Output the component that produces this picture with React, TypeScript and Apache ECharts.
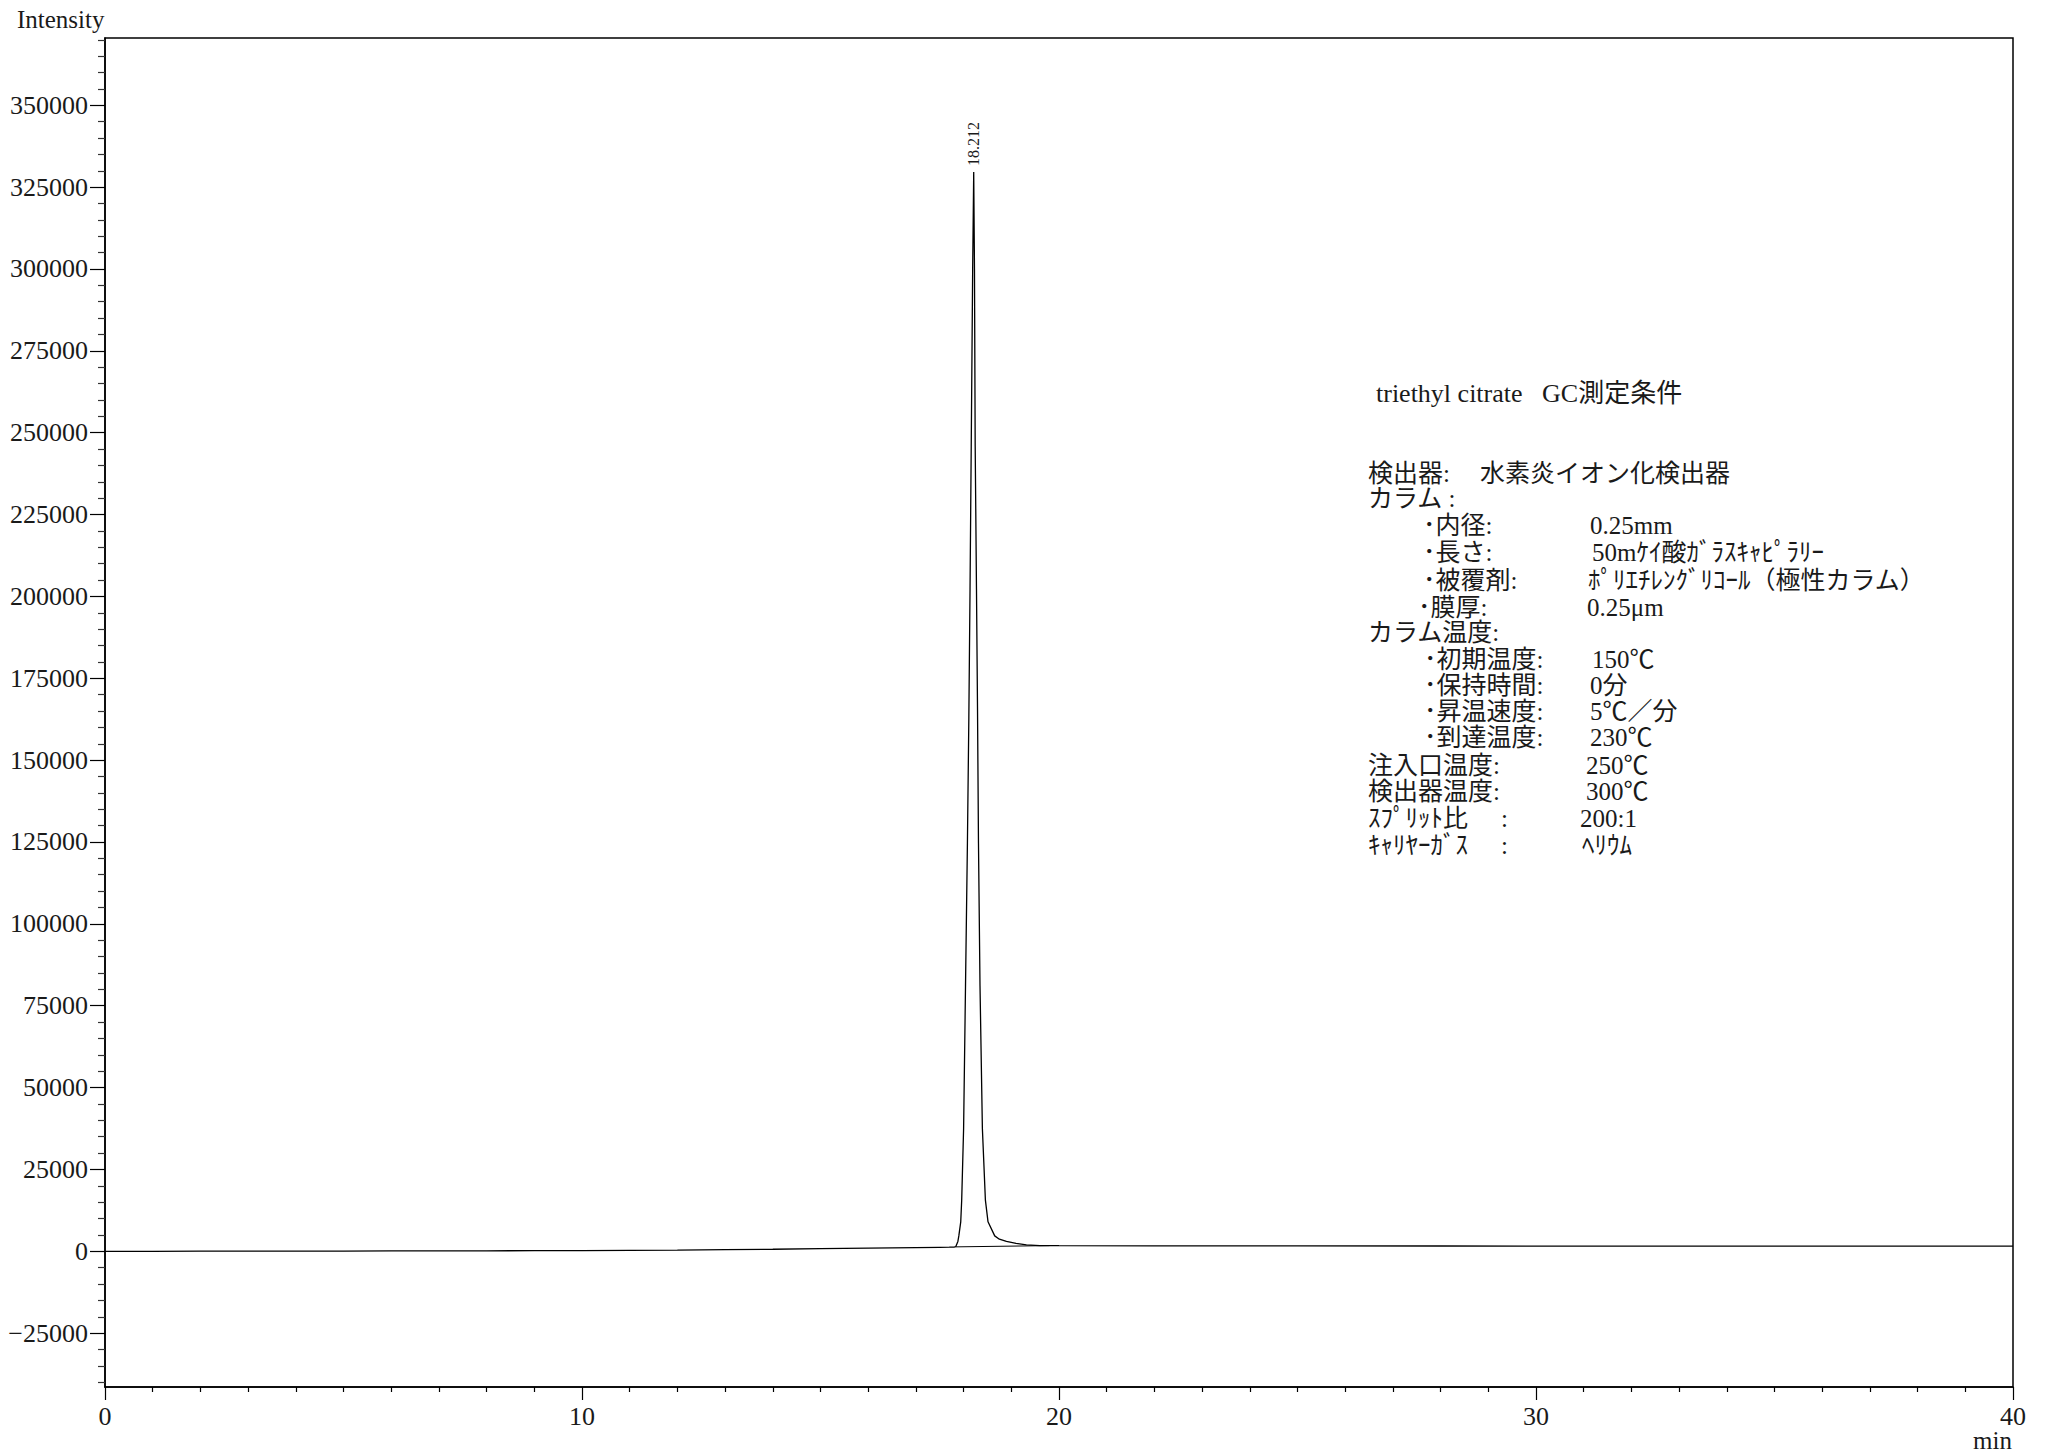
import React, { useEffect, useRef } from 'react';
import * as echarts from 'echarts';

// ---------- DATA ----------
const retentionTimes = [
  0, 1, 2, 3, 4, 5, 6, 7, 8, 9, 10, 11, 12, 13, 14, 15, 16, 17, 17.5, 17.7, 17.8,
  17.835, 17.88, 17.9, 17.94, 17.96, 18.0, 18.04, 18.08, 18.11, 18.135, 18.16, 18.19, 18.212,
  18.228, 18.243, 18.27, 18.292, 18.312, 18.344, 18.394, 18.457, 18.512, 18.652, 18.75, 18.898,
  19.1, 19.317, 19.6, 20, 22, 25, 28, 30, 33, 36, 40,
];
const intensities = [
  0, 0, 20, 30, 50, 70, 100, 120, 150, 180, 220, 280, 350, 480, 620, 800, 950, 1100, 1200, 1250, 1300,
  1400, 3000, 4700, 9000, 15600, 37400, 81000, 124600, 163000, 202300, 245900, 300000, 329600,
  300000, 245900, 202300, 165000, 124600, 81000, 37400, 15600, 9000, 4700, 3700, 3000,
  2400, 1950, 1750, 1700, 1660, 1630, 1610, 1600, 1580, 1560, 1550,
];
const integrationTimes = [17.835, 19.8];
const integrationValues = [1350, 1730];

const peakTime = 18.212;
const peakIntensity = 329600;
const peakLabel = '18.212';

const yMin = -41450;
const yMax = 370550;
const yLabelValues = [
  -25000, 0, 25000, 50000, 75000, 100000, 125000, 150000, 175000, 200000,
  225000, 250000, 275000, 300000, 325000, 350000,
];
const yMinorValues = [
  -40000, -35000, -30000, -20000, -15000, -10000, -5000, 5000, 10000, 15000, 20000,
  30000, 35000, 40000, 45000, 55000, 60000, 65000, 70000, 80000, 85000, 90000, 95000,
  105000, 110000, 115000, 120000, 130000, 135000, 140000, 145000, 155000, 160000, 165000, 170000,
  180000, 185000, 190000, 195000, 205000, 210000, 215000, 220000, 230000, 235000, 240000, 245000,
  255000, 260000, 265000, 270000, 280000, 285000, 290000, 295000, 305000, 310000, 315000, 320000,
  330000, 335000, 340000, 345000, 355000, 360000, 365000, 370000,
];
const xMin = 0;
const xMax = 40;
const xInterval = 10;

const yAxisTitle = 'Intensity';
const xAxisTitle = 'min';

const conditionTitle = 'triethyl citrate   GC測定条件';
const conditionLabels = [
  '検出器:', 'カラム :', '･内径:', '･長さ:', '･被覆剤:', '･膜厚:', 'カラム温度:',
  '･初期温度:', '･保持時間:', '･昇温速度:', '･到達温度:', '注入口温度:', '検出器温度:',
  'ｽﾌﾟﾘｯﾄ比', 'ｷｬﾘﾔｰｶﾞｽ',
];
const conditionColons = ['', '', '', '', '', '', '', '', '', '', '', '', '', ':', ':'];
const conditionValues = [
  '水素炎イオン化検出器', '', '0.25mm', '50mｹｲ酸ｶﾞﾗｽｷｬﾋﾟﾗﾘｰ', 'ﾎﾟﾘｴﾁﾚﾝｸﾞﾘｺｰﾙ（極性カラム）',
  '0.25μm', '', '150℃', '0分', '5℃／分', '230℃', '250℃', '300℃', '200:1', 'ﾍﾘｳﾑ',
];

// ---------- LAYOUT ----------
const W = 2049;
const H = 1455;
const FONT = "'Liberation Serif', 'Noto Sans CJK JP', serif";
const TEXT = '#1a1a1a';
const rowY = [473, 498, 525.5, 552, 580, 607, 632, 659, 685, 711.5, 737, 765, 791.5, 818, 845];
const labelX = [1368, 1368, 1423, 1423, 1423, 1418, 1368, 1424, 1424, 1424, 1424, 1368, 1368, 1368, 1368];
const valueX = [1480, 1590, 1590, 1592, 1588, 1587, 1590, 1592, 1590, 1590, 1590, 1586, 1586, 1580, 1582];
const colonX = 1501;

function txt(text: string, x: number, y: number, size: number, align = 'left') {
  return {
    type: 'text',
    x,
    y,
    silent: true,
    style: {
      text,
      fill: TEXT,
      font: `${size}px ${FONT}`,
      textAlign: align,
      textVerticalAlign: 'middle',
    },
  };
}

export default function App() {
  const ref = useRef<HTMLDivElement>(null);

  useEffect(() => {
    if (!ref.current) return;
    const chart = echarts.init(ref.current, undefined, { renderer: 'svg' });

    const graphics: any[] = [];
    graphics.push(txt(yAxisTitle, 17, 19, 25));
    graphics.push(txt(xAxisTitle, 2012, 1440, 25, 'right'));
    graphics.push(txt(conditionTitle, 1376, 393, 26));
    conditionLabels.forEach((l, i) => {
      graphics.push(txt(l, labelX[i], rowY[i], 25));
      if (conditionColons[i]) graphics.push(txt(conditionColons[i], colonX, rowY[i], 25));
      if (conditionValues[i]) graphics.push(txt(conditionValues[i], valueX[i], rowY[i], 25));
    });

    const axisLine = { show: true, onZero: false, lineStyle: { color: '#000', width: 1.5 } };

    chart.setOption({
      animation: false,
      textStyle: { fontFamily: FONT },
      grid: {
        left: 105,
        right: 36,
        top: 38,
        bottom: 68,
        show: true,
        borderColor: '#000',
        borderWidth: 1.5,
        backgroundColor: '#fff',
      },
      xAxis: {
        type: 'value',
        min: xMin,
        max: xMax,
        interval: xInterval,
        axisLine,
        axisTick: { show: true, length: 13, lineStyle: { color: '#000', width: 1.2 } },
        minorTick: { show: true, splitNumber: 10, length: 5, lineStyle: { color: '#000', width: 1.2 } },
        axisLabel: { fontSize: 26, color: TEXT, margin: 16, fontFamily: FONT },
        splitLine: { show: false },
        minorSplitLine: { show: false },
      },
      yAxis: [
        {
          type: 'value',
          position: 'left',
          min: yMin,
          max: yMax,
          axisLine,
          axisTick: {
            show: true,
            length: 15,
            customValues: yLabelValues,
            lineStyle: { color: '#000', width: 1.2 },
          },
          axisLabel: {
            fontSize: 26,
            color: TEXT,
            margin: 17,
            fontFamily: FONT,
            customValues: yLabelValues,
            formatter: (v: number) => (v < 0 ? '−' + Math.abs(v) : String(v)),
          },
          splitLine: { show: false },
        },
        {
          type: 'value',
          position: 'left',
          min: yMin,
          max: yMax,
          axisLine: { show: false, onZero: false },
          axisTick: {
            show: true,
            length: 7,
            customValues: yMinorValues,
            lineStyle: { color: '#333', width: 1.2 },
          },
          axisLabel: { show: false },
          splitLine: { show: false },
        },
      ],
      series: [
        {
          type: 'line',
          xAxisIndex: 0,
          yAxisIndex: 0,
          data: retentionTimes.map((t, i) => [t, intensities[i]]),
          showSymbol: false,
          symbol: 'none',
          smooth: false,
          lineStyle: { color: '#000', width: 1.3 },
          markPoint: {
            symbol: 'circle',
            symbolSize: 0,
            silent: true,
            data: [{ coord: [peakTime, peakIntensity] }],
            label: {
              show: true,
              formatter: peakLabel,
              position: 'top',
              distance: 6,
              rotate: 90,
              align: 'left',
              verticalAlign: 'middle',
              fontSize: 16,
              color: TEXT,
              fontFamily: FONT,
            },
          },
        },
        {
          type: 'line',
          xAxisIndex: 0,
          yAxisIndex: 0,
          data: integrationTimes.map((t, i) => [t, integrationValues[i]]),
          showSymbol: false,
          symbol: 'none',
          lineStyle: { color: '#000', width: 1 },
        },
      ],
      graphic: graphics,
    });

    return () => {
      chart.dispose();
    };
  }, []);

  return (
    <div
      ref={ref}
      style={{ position: 'absolute', left: 0, top: 0, width: W, height: H, background: '#fff' }}
    />
  );
}
